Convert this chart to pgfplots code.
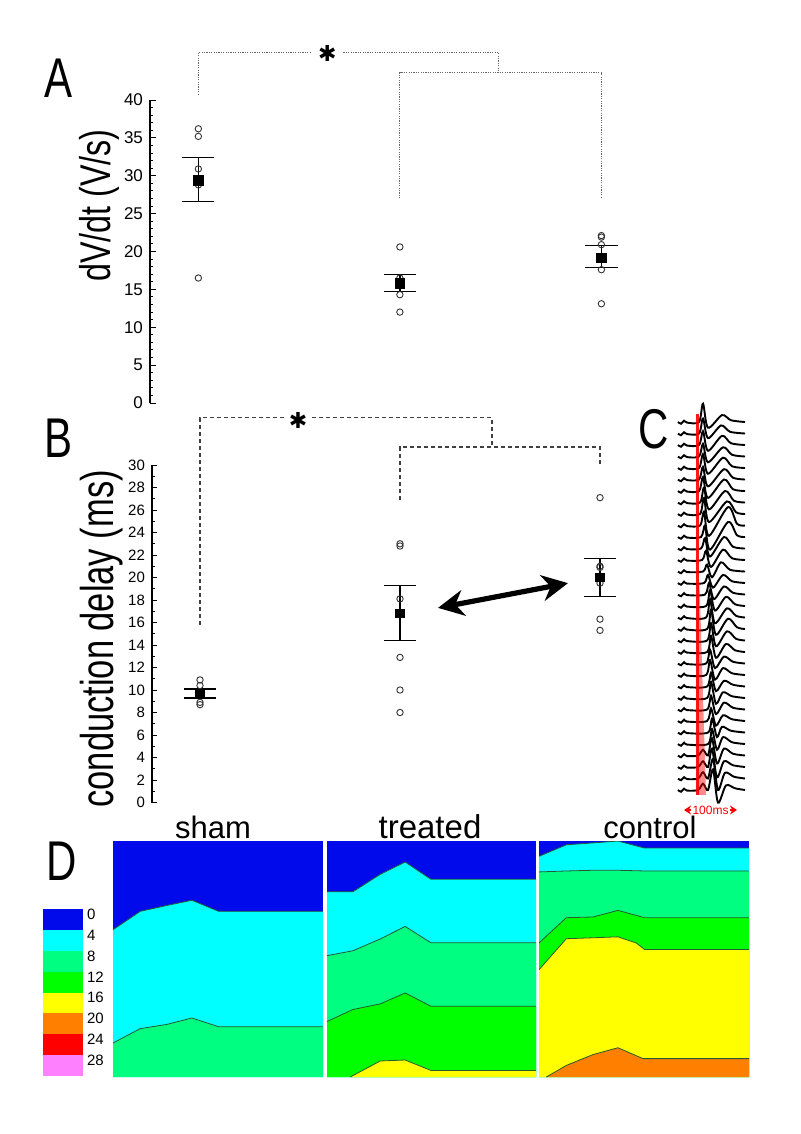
\documentclass[border=0pt]{standalone}
\usepackage{fontspec}
\setmainfont{Liberation Sans}
\newfontfamily\narrowfont[FakeStretch=0.75]{Liberation Sans}
\newfontfamily\djv{DejaVu Sans}
\usepackage{pgfplots}
\pgfplotsset{compat=1.18}
\usetikzlibrary{arrows.meta}
\definecolor{cb0}{RGB}{0,10,235}
\definecolor{cb1}{RGB}{0,255,255}
\definecolor{cb2}{RGB}{0,255,128}
\definecolor{cb3}{RGB}{0,255,0}
\definecolor{cb4}{RGB}{255,255,0}
\definecolor{cb5}{RGB}{255,128,0}
\definecolor{cb6}{RGB}{255,0,0}
\definecolor{cb7}{RGB}{255,128,255}
\definecolor{bnd}{RGB}{40,90,50}
\pgfplotsset{
  mytrc/.style={black, line width=0.95pt, smooth, tension=0.5},
  mybrkA/.style={black!60, line width=0.5pt, dash pattern=on 0.6pt off 0.6pt},
  mybrkB/.style={black!75, line width=0.6pt, dash pattern=on 2pt off 1.5pt},
  mycirc/.style={only marks, mark=o, mark size=1.6pt, mark options={line width=0.45pt}, black!80},
  myeb/.style={black, line width=0.7pt},
  mybline/.style={bnd, line width=0.4pt},
}
\newcommand{\trace}[2]{\addplot[mytrc, y filter/.expression={y-#1}] coordinates {(0,0)(3,-0.15)(6,0.12)(9,-0.05)#2(67,0)};}
\begin{document}
\begin{tikzpicture}
\useasboundingbox (0,0) rectangle (400pt,-567pt);
% ---------------- Panel A
\begin{axis}[
  at={(75pt,-201.5pt)}, anchor=south west,
  scale only axis, width=266pt, height=151.5pt,
  xmin=-0.24, xmax=2.4, ymin=0, ymax=40,
  axis line style={draw=none}, xtick=\empty, ytick pos=left,
  ytick={0,5,...,40}, minor y tick num=4, tick align=inside,
  major tick length=3pt, minor tick length=1.5pt,
  tick style={line width=0.5pt, black},
  yticklabel style={font=\fontsize{8.5}{9}\selectfont},
  /pgf/number format/assume math mode=true,
  clip=false,
]
\addplot[black, line width=0.6pt] coordinates {(-0.24,0)(-0.24,40)};
\addplot[mybrkA] coordinates {(0,40.7)(0,46.3)(0.56,46.3)};
\addplot[mybrkA] coordinates {(0.72,46.3)(1.49,46.3)(1.49,43.6)};
\addplot[mybrkA] coordinates {(1,27)(1,43.6)(2,43.6)(2,27)};
\node[font=\djv\fontsize{11}{11}\selectfont] at (axis cs:0.64,46.2) {✱};
\addplot[mycirc] coordinates {(0,36.2)(0,35.2)(0,30.9)(0,28.8)(0,16.5)(1,20.6)(1,16.5)(1,14.3)(1,12.0)(2,22.1)(2,21.9)(2,20.9)(2,17.6)(2,13.1)};
\addplot[myeb] coordinates {(0,26.6)(0,32.4)};
\addplot[myeb] coordinates {(-0.08,26.6)(0.08,26.6)};
\addplot[myeb] coordinates {(-0.08,32.4)(0.08,32.4)};
\addplot[myeb] coordinates {(1,14.7)(1,17.0)};
\addplot[myeb] coordinates {(0.92,14.7)(1.08,14.7)};
\addplot[myeb] coordinates {(0.92,17.0)(1.08,17.0)};
\addplot[myeb] coordinates {(2,17.9)(2,20.8)};
\addplot[myeb] coordinates {(1.92,17.9)(2.08,17.9)};
\addplot[myeb] coordinates {(1.92,20.8)(2.08,20.8)};
\addplot[only marks, mark=square*, mark size=2.3pt, black] coordinates {(0,29.4)(1,15.8)(2,19.2)};
\end{axis}
% ---------------- Panel B
\begin{axis}[
  at={(76pt,-401.25pt)}, anchor=south west,
  scale only axis, width=264pt, height=168.75pt,
  xmin=-0.24, xmax=2.4, ymin=0, ymax=30,
  axis line style={draw=none}, xtick=\empty, ytick pos=left,
  ytick={0,2,...,30}, minor y tick num=1, tick align=inside,
  major tick length=2.5pt, minor tick length=1.5pt,
  tick style={line width=0.5pt, black},
  yticklabel style={font=\fontsize{7.5}{8}\selectfont},
  /pgf/number format/assume math mode=true,
  clip=false,
]
\addplot[black, line width=0.6pt] coordinates {(-0.24,0)(-0.24,30)};
\addplot[mybrkB] coordinates {(0,15.8)(0,34.2)(0.42,34.2)};
\addplot[mybrkB] coordinates {(0.56,34.2)(1.46,34.2)(1.46,31.6)};
\addplot[mybrkB] coordinates {(1,26.9)(1,31.6)(2,31.6)(2,30)};
\node[font=\djv\fontsize{11}{11}\selectfont] at (axis cs:0.49,34.0) {✱};
\addplot[mycirc] coordinates {(0,10.9)(0,10.4)(0,8.9)(0,8.7)(1,23.0)(1,22.8)(1,18.1)(1,12.9)(1,10.0)(1,8.0)(2,27.1)(2,21.0)(2,20.9)(2,19.5)(2,16.3)(2,15.3)};
\addplot[myeb] coordinates {(0,9.3)(0,10.1)};
\addplot[myeb] coordinates {(-0.08,9.3)(0.08,9.3)};
\addplot[myeb] coordinates {(-0.08,10.1)(0.08,10.1)};
\addplot[myeb] coordinates {(1,14.4)(1,19.3)};
\addplot[myeb] coordinates {(0.92,14.4)(1.08,14.4)};
\addplot[myeb] coordinates {(0.92,19.3)(1.08,19.3)};
\addplot[myeb] coordinates {(2,18.3)(2,21.7)};
\addplot[myeb] coordinates {(1.92,18.3)(2.08,18.3)};
\addplot[myeb] coordinates {(1.92,21.7)(2.08,21.7)};
\addplot[only marks, mark=square*, mark size=2.1pt, black] coordinates {(0,9.7)(1,16.8)(2,20.0)};
\addplot[black, line width=2.6pt, {Stealth[length=13pt,width=13pt]}-{Stealth[length=13pt,width=13pt]}] coordinates {(1.19,17.3)(1.84,19.5)};
\end{axis}
% ---------------- Panel C
\begin{axis}[
  at={(339pt,-403.625pt)}, anchor=south west,
  scale only axis, width=35pt, height=201.25pt,
  xmin=0, xmax=70, ymin=-33.5, ymax=1.5,
  hide axis, clip=false,
]
\trace{0}{(21,0)(25,1.6)(30,-0.5)(44,0.6)(53,0.15)}
\trace{1}{(21,0)(25,1.3)(30,-0.4)(43,0.7)(52,0.15)}
\trace{2}{(21,0)(25,1.2)(30,-0.5)(44,0.8)(53,0.15)}
\trace{3}{(21,0)(25,1.1)(30,-0.5)(45,0.8)(54,0.15)}
\trace{4}{(21,0)(25,1.2)(30,-0.5)(45,0.9)(54,0.15)}
\trace{5}{(21,0)(25,1.1)(30,-0.6)(46,0.9)(55,0.15)}
\trace{6}{(21,0)(25,1.2)(30,-0.6)(46,1.0)(55,0.15)}
\trace{7}{(22,0)(26,1.3)(31,-0.6)(47,1.0)(56,0.15)}
\trace{8}{(22,0)(26,1.4)(31,-0.7)(49,1.1)(58,0.15)}
\trace{9}{(22,0)(26,1.2)(31,-0.9)(50,1.6)(59,0.15)}
\trace{10}{(23,0)(27,1.0)(32,-1.1)(50,1.3)(59,0.15)}
\trace{11}{(23,0)(27,0.9)(32,-0.7)(46,1.0)(55,0.15)}
\trace{12}{(24,0)(28,0.8)(33,-0.6)(45,0.9)(54,0.15)}
\trace{13}{(25,0)(29,0.6)(34,-0.5)(43,0.8)(52,0.15)}
\trace{14}{(26,0)(30,0.7)(35,-0.4)(45,0.7)(54,0.15)}
\trace{15}{(27,0)(31,1.0)(36,-0.4)(46,0.7)(55,0.15)}
\trace{16}{(28,0)(32,1.4)(37,-0.4)(48,0.8)(57,0.15)}
\trace{17}{(28,0)(32,1.6)(37,-0.5)(49,0.8)(58,0.15)}
\trace{18}{(29,0)(33,1.7)(38,-0.5)(50,0.9)(59,0.15)}
\trace{19}{(29,0)(33,1.5)(38,-0.5)(49,0.8)(58,0.15)}
\trace{20}{(29,0)(33,1.4)(38,-0.5)(48,0.7)(57,0.15)}
\trace{21}{(28,0)(32,1.2)(37,-0.4)(46,0.6)(55,0.15)}
\trace{22}{(28,0)(32,1.3)(37,-0.4)(45,0.6)(54,0.15)}
\trace{23}{(29,0)(33,1.2)(38,-0.4)(46,0.5)(55,0.15)}
\trace{24}{(29,0)(33,1.4)(38,-0.5)(45,0.5)(54,0.15)}
\trace{25}{(29,0)(33,1.2)(38,-0.4)(46,0.6)(55,0.15)}
\trace{26}{(29,0)(33,1.1)(38,-0.4)(45,0.5)(54,0.15)}
\trace{27}{(30,0)(34,1.2)(39,-0.4)(44,0.5)(53,0.15)}
\trace{28}{(30,0)(34,1.3)(39,-0.5)(45,0.6)(54,0.15)}
\trace{29}{(20,0)(25,0.5)(30,0)(34,1.5)(39,-0.7)(46,0.6)(55,0.15)}
\trace{30}{(20,0)(25,0.5)(30,0)(34,1.6)(39,-0.9)(46,0.5)(55,0.15)}
\trace{31}{(20,0)(25,0.55)(30,0)(35,1.7)(40,-1.0)(47,0.5)(56,0.15)}
\trace{32}{(20,0)(25,0.55)(30,0)(35,1.8)(40,-1.1)(48,0.4)(57,0.15)}
\addplot[fill=red, fill opacity=0.45, draw=none] coordinates {(19,-14)(21.5,-14)(28,-32.43)(19,-32.43)} --cycle;
\addplot[red, line width=1.8pt, opacity=0.9] coordinates {(19.5,0.7)(19.5,-32.43)};
\draw[red, line width=0.8pt, {Stealth[length=3.5pt,width=4.5pt]}-{Stealth[length=3.5pt,width=4.5pt]}] (axis cs:6,-33.74) -- (axis cs:59,-33.74);
\node[fill=white, inner sep=0.6pt, text=red, font=\fontsize{6}{6}\selectfont] at (axis cs:32.5,-33.74) {100ms};
\end{axis}
% ---------------- Panel D: colour bar
\begin{axis}[
  at={(21.5pt,-538pt)}, anchor=south west,
  scale only axis, width=20pt, height=83.5pt,
  xmin=0, xmax=1, ymin=0, ymax=8, y dir=reverse,
  axis line style={draw=none}, major tick length=0pt,
  xtick=\empty, ytick={0.25,1.25,...,7.25},
  yticklabels={0,4,8,12,16,20,24,28}, yticklabel pos=right,
  yticklabel style={font=\fontsize{7.5}{8}\selectfont, xshift=-1.5pt},
  /pgf/number format/assume math mode=true,
]
\addplot[fill=cb0, draw=none] coordinates {(0,0)(1,0)(1,1)(0,1)} --cycle;
\addplot[fill=cb1, draw=none] coordinates {(0,1)(1,1)(1,2)(0,2)} --cycle;
\addplot[fill=cb2, draw=none] coordinates {(0,2)(1,2)(1,3)(0,3)} --cycle;
\addplot[fill=cb3, draw=none] coordinates {(0,3)(1,3)(1,4)(0,4)} --cycle;
\addplot[fill=cb4, draw=none] coordinates {(0,4)(1,4)(1,5)(0,5)} --cycle;
\addplot[fill=cb5, draw=none] coordinates {(0,5)(1,5)(1,6)(0,6)} --cycle;
\addplot[fill=cb6, draw=none] coordinates {(0,6)(1,6)(1,7)(0,7)} --cycle;
\addplot[fill=cb7, draw=none] coordinates {(0,7)(1,7)(1,8)(0,8)} --cycle;
\end{axis}
% sham
\begin{axis}[
  at={(56.5pt,-538.5pt)}, anchor=south west,
  scale only axis, width=105pt, height=118pt,
  xmin=0, xmax=1, ymin=0, ymax=1, hide axis,
]
\addplot[fill=cb0, draw=none] coordinates {(0,0)(1,0)(1,1)(0,1)} --cycle;
\addplot[fill=cb1, draw=none] coordinates {(0,0.624)(0.130,0.702)(0.257,0.727)(0.376,0.749)(0.503,0.702)(1,0.702)} \closedcycle;
\addplot[mybline] coordinates {(0,0.624)(0.130,0.702)(0.257,0.727)(0.376,0.749)(0.503,0.702)(1,0.702)};
\addplot[fill=cb2, draw=none] coordinates {(0,0.144)(0.130,0.205)(0.257,0.223)(0.376,0.250)(0.503,0.213)(1,0.213)} \closedcycle;
\addplot[mybline] coordinates {(0,0.144)(0.130,0.205)(0.257,0.223)(0.376,0.250)(0.503,0.213)(1,0.213)};
\end{axis}
% treated
\begin{axis}[
  at={(163.5pt,-538.5pt)}, anchor=south west,
  scale only axis, width=104.5pt, height=118pt,
  xmin=0, xmax=1, ymin=0, ymax=1, hide axis,
]
\addplot[fill=cb0, draw=none] coordinates {(0,0)(1,0)(1,1)(0,1)} --cycle;
\addplot[fill=cb1, draw=none] coordinates {(0,0.785)(0.124,0.785)(0.255,0.859)(0.374,0.911)(0.497,0.838)(1,0.838)} \closedcycle;
\addplot[mybline] coordinates {(0,0.785)(0.124,0.785)(0.255,0.859)(0.374,0.911)(0.497,0.838)(1,0.838)};
\addplot[fill=cb2, draw=none] coordinates {(0,0.514)(0.124,0.535)(0.255,0.585)(0.374,0.638)(0.497,0.569)(1,0.569)} \closedcycle;
\addplot[mybline] coordinates {(0,0.514)(0.124,0.535)(0.255,0.585)(0.374,0.638)(0.497,0.569)(1,0.569)};
\addplot[fill=cb3, draw=none] coordinates {(0,0.235)(0.124,0.286)(0.255,0.310)(0.374,0.356)(0.497,0.300)(1,0.300)} \closedcycle;
\addplot[mybline] coordinates {(0,0.235)(0.124,0.286)(0.255,0.310)(0.374,0.356)(0.497,0.300)(1,0.300)};
\addplot[fill=cb4, draw=none] coordinates {(0.111,0)(0.255,0.068)(0.374,0.072)(0.497,0.028)(1,0.028)} \closedcycle;
\addplot[mybline] coordinates {(0.111,0)(0.255,0.068)(0.374,0.072)(0.497,0.028)(1,0.028)};
\end{axis}
% control
\begin{axis}[
  at={(269.5pt,-538.5pt)}, anchor=south west,
  scale only axis, width=105pt, height=118pt,
  xmin=0, xmax=1, ymin=0, ymax=1, hide axis,
]
\addplot[fill=cb0, draw=none] coordinates {(0,0)(1,0)(1,1)(0,1)} --cycle;
\addplot[fill=cb1, draw=none] coordinates {(0,0.935)(0.130,0.984)(0.257,0.992)(0.376,1.0)(0.503,0.970)(1,0.970)} \closedcycle;
\addplot[mybline] coordinates {(0,0.935)(0.130,0.984)(0.257,0.992)(0.376,1.0)(0.503,0.970)(1,0.970)};
\addplot[fill=cb2, draw=none] coordinates {(0,0.869)(0.130,0.873)(0.257,0.876)(0.376,0.876)(0.503,0.873)(1,0.873)} \closedcycle;
\addplot[mybline] coordinates {(0,0.869)(0.130,0.873)(0.257,0.876)(0.376,0.876)(0.503,0.873)(1,0.873)};
\addplot[fill=cb3, draw=none] coordinates {(0,0.568)(0.130,0.675)(0.257,0.678)(0.376,0.706)(0.503,0.675)(1,0.675)} \closedcycle;
\addplot[mybline] coordinates {(0,0.568)(0.130,0.675)(0.257,0.678)(0.376,0.706)(0.503,0.675)(1,0.675)};
\addplot[fill=cb4, draw=none] coordinates {(0,0.455)(0.130,0.586)(0.257,0.590)(0.376,0.594)(0.463,0.568)(0.503,0.540)(1,0.540)} \closedcycle;
\addplot[mybline] coordinates {(0,0.455)(0.130,0.586)(0.257,0.590)(0.376,0.594)(0.463,0.568)(0.503,0.540)(1,0.540)};
\addplot[fill=cb5, draw=none] coordinates {(0.035,0)(0.130,0.049)(0.257,0.095)(0.376,0.124)(0.495,0.078)(1,0.078)} \closedcycle;
\addplot[mybline] coordinates {(0.035,0)(0.130,0.049)(0.257,0.095)(0.376,0.124)(0.495,0.078)(1,0.078)};
\end{axis}
% ---------------- text
\node[anchor=base, inner sep=0pt, font=\narrowfont\fontsize{28}{28}\selectfont] at (29.5pt,-49pt) {A};
\node[anchor=base, inner sep=0pt, font=\narrowfont\fontsize{28}{28}\selectfont] at (29.5pt,-228.5pt) {B};
\node[anchor=base, inner sep=0pt, font=\narrowfont\fontsize{28}{28}\selectfont] at (327pt,-224pt) {C};
\node[anchor=base, inner sep=0pt, font=\narrowfont\fontsize{28}{28}\selectfont] at (31pt,-440pt) {D};
\node[anchor=base west, rotate=90, inner sep=0pt, font=\narrowfont\fontsize{21.5}{21.5}\selectfont] at (55pt,-141pt) {dV/dt (V/s)};
\node[anchor=base west, rotate=90, inner sep=0pt, font=\narrowfont\fontsize{23}{23}\selectfont] at (56.5pt,-404pt) {conduction delay (ms)};
\node[anchor=base, inner sep=0pt, font=\fontsize{15.5}{15.5}\selectfont] at (106.5pt,-419pt) {sham};
\node[anchor=base, inner sep=0pt, font=\fontsize{16.5}{16.5}\selectfont] at (215pt,-419pt) {treated};
\node[anchor=base, inner sep=0pt, font=\fontsize{15.5}{15.5}\selectfont] at (325pt,-419pt) {control};
\end{tikzpicture}
\end{document}
